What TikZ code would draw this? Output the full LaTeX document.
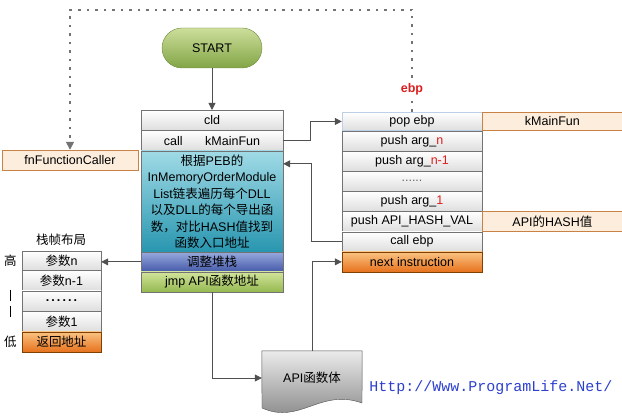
\documentclass[tikz,border=0pt]{standalone}
\usepackage{fontspec}
\setmainfont{Liberation Sans}
\newfontfamily\cjk{Noto Sans CJK SC}
\newfontfamily\urlfont{Liberation Mono}
\newcommand{\zh}[1]{{\cjk #1}}
\newcommand{\hl}[1]{\textcolor{argred}{#1}}
\definecolor{linegray}{RGB}{80,80,80}
\definecolor{argred}{RGB}{220,30,30}
\definecolor{noteorange}{RGB}{253,237,220}
\definecolor{noteborder}{RGB}{200,130,70}
\definecolor{urlblue}{RGB}{45,65,205}
\usetikzlibrary{calc}
\usetikzlibrary{positioning}
\usetikzlibrary{arrows.meta, backgrounds}
\tikzset{
  arr/.style={draw=linegray, line width=0.8pt, -{Triangle[length=7pt,width=7pt]}},
  cell/.style={draw=linegray!80, top color=white, bottom color=black!13, inner sep=0pt,
    minimum height=20pt, anchor=north},
  lcol/.style={cell, minimum width=142pt},
  rcol/.style={cell, minimum width=140pt, minimum height=19.75pt},
  scol/.style={cell, minimum width=79pt},
  note/.style={draw=noteborder, fill=noteorange, inner sep=0pt, minimum width=140pt, minimum height=18pt},
  hotbox/.style={draw=black!50!orange, top color={rgb,255:red,250;green,195;blue,130}, bottom color={rgb,255:red,230;green,115;blue,30}}
}

\begin{document}
\begin{tikzpicture}[x=1pt, y=1pt, font=\fontsize{12.5}{15}\selectfont]
  \useasboundingbox (0,0) rectangle (622,-417);

  \node [draw={rgb,255:red,110;green,140;blue,60}, top color={rgb,255:red,205;green,222;blue,155},
    bottom color={rgb,255:red,130;green,165;blue,70}, rounded corners=20pt,
    minimum width=100pt, minimum height=40pt] (start) at (212,-48) {START};

  % caller side
  \node [lcol] (cld) at (212,-110) {cld};
  \node [lcol, below=0pt of cld] (call) {call\hspace{1.8em}kMainFun};
  \node [lcol, below=0pt of call, minimum height=101pt, align=center,
    top color={rgb,255:red,160;green,218;blue,230}, bottom color={rgb,255:red,40;green,150;blue,175},
    font=\fontsize{12.5}{16.5}\selectfont] (scan)
    {\zh{根据}PEB\zh{的}\\InMemoryOrderModule\\List\zh{链表遍历每个}DLL\\\zh{以及}DLL\zh{的每个导出函}\\\zh{数，对比}HASH\zh{值找到}\\\zh{函数入口地址}};
  \node [lcol, below=0pt of scan, minimum height=19pt,
    top color={rgb,255:red,150;green,168;blue,220}, bottom color={rgb,255:red,70;green,90;blue,170}] (adjust) {\zh{调整堆栈}};
  \node [lcol, below=0pt of adjust,
    top color={rgb,255:red,210;green,228;blue,155}, bottom color={rgb,255:red,150;green,185;blue,80}] (jmp) {jmp API\zh{函数地址}};

  % kMainFun frame
  \node [rcol, draw={rgb,255:red,190;green,208;blue,230}, fill={rgb,255:red,150;green,180;blue,215},
    minimum height=18.5pt] (pop) at (412,-112) {pop ebp};
  \node [rcol, below=0pt of pop] (argn) {push arg\_\hl{n}};
  \node [rcol, below=0pt of argn] (argm) {push arg\_\hl{n-1}};
  \node [rcol, below=0pt of argm] (dots) {\textcolor{black!60}{......}};
  \node [rcol, below=0pt of dots] (arg1) {push arg\_\hl{1}};
  \node [rcol, below=0pt of arg1] (hash) {push API\_HASH\_VAL};
  \node [rcol, below=0pt of hash] (callebp) {call ebp};
  \node [rcol, hotbox, below=0pt of callebp] (next) {next instruction};

  \node [note, right=0pt of pop] (kmain) {kMainFun};
  \node [note, right=0pt of hash, minimum height=19.75pt] (hashval) {API\zh{的}HASH\zh{值}};
  \node [note, minimum width=136pt, minimum height=20pt] (caller) at (70,-160) {fnFunctionCaller};

  % stack layout
  \node (title) at (61,-240) {\zh{栈帧布局}};
  \node [scol, minimum height=19pt] (pn) at (61.5,-251) {\zh{参数}n};
  \node [scol, below=0pt of pn] (pn1) {\zh{参数}n-1};
  \node [scol, below=0pt of pn1] (pdots) {\textbf{.\,.\,.\,.\,.\,.}};
  \node [scol, below=0pt of pdots] (p1) {\zh{参数}1};
  \node [scol, hotbox, below=0pt of p1] (ret) {\zh{返回地址}};
  \node [left=5pt of pn, inner sep=0pt] (high) {\zh{高}};
  \node [left=5pt of ret, inner sep=0pt] (low) {\zh{低}};
  \draw [line width=1.2pt] ($(high)+(0,-29)$) -- ++(0,-11);
  \draw [line width=1.2pt] ($(high)+(0,-45)$) -- ++(0,-11);

  % API body
  \node [minimum width=100pt, minimum height=54pt] (api) at (312,-378) {API\zh{函数体}};
  \begin{scope}[on background layer]
    \shade [draw=linegray, top color=black!8, bottom color=black!50]
      (api.north west) -- (api.north east) -- (362,-403)
      .. controls (320,-388) and (300,-425) .. (262,-408) -- cycle;
  \end{scope}

  % connectors
  \draw [arr] (start) -- (cld);
  \draw [arr] (call.east) -- ++(27,0) |- (pop.west);
  \draw [arr] (callebp.west) -- ++(-30,0) |- ($(scan.north east)+(0,-13)$);
  \draw [arr] (api.north) |- (next.west);
  \draw [arr] (jmp.south) |- (api.west);
  \draw [arr] (adjust.west) -- (adjust.west -| pn.east);

  % return path
  \draw [draw=black!55, line width=1.5pt, dash pattern=on 2.5pt off 6pt,
    -{Triangle[length=8pt,width=8pt]}] (pop.north) -- ++(0,102) -| (caller.north);
  \node [fill=white, text=argred, font=\fontsize{12.5}{15}\selectfont\bfseries, inner sep=2pt] (ebp) at (412,-89) {ebp};

  \node [text=urlblue, font=\urlfont\fontsize{15}{18}\selectfont] (url) at (491,-388) {Http://Www.ProgramLife.Net/};
\end{tikzpicture}
\end{document}
